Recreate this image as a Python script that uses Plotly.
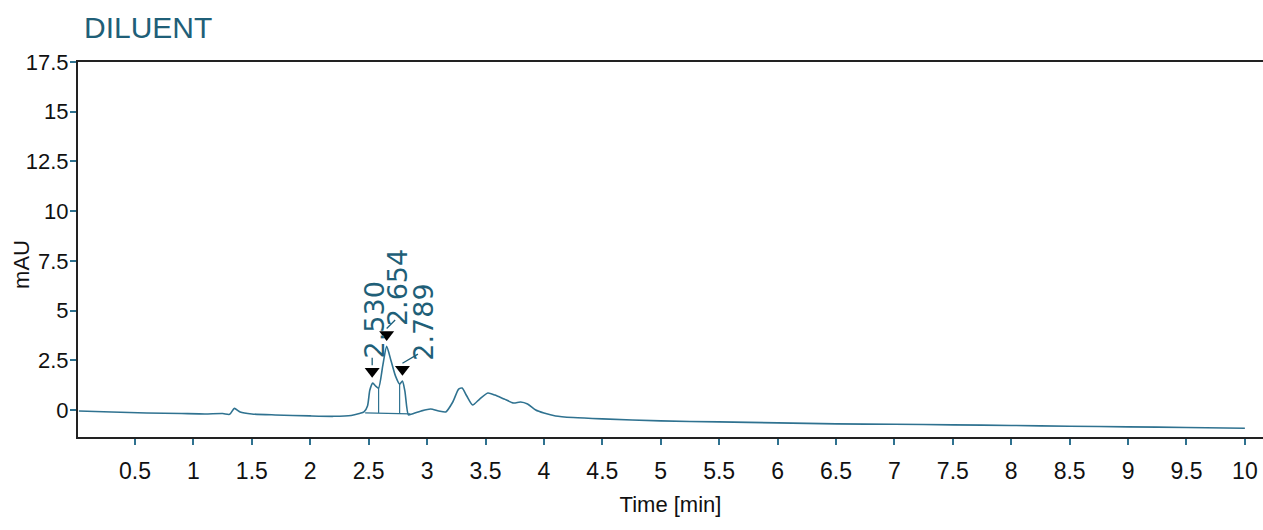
import plotly.graph_objects as go

# ---- data ----
time_min = [0.02, 0.3, 0.6, 0.9, 1.1, 1.25, 1.31, 1.35, 1.4, 1.5, 1.7, 2.0, 2.2, 2.35,
            2.42, 2.46, 2.49, 2.51, 2.535, 2.56, 2.585, 2.62, 2.654, 2.69, 2.73, 2.765,
            2.789, 2.81, 2.84, 2.87, 2.95, 3.03, 3.1, 3.16, 3.22, 3.27, 3.30, 3.34,
            3.39, 3.45, 3.52, 3.58, 3.66, 3.74, 3.8, 3.86, 3.93, 4.0, 4.1, 4.25, 4.5,
            5.0, 5.5, 6.0, 6.5, 7.0, 7.5, 8.0, 8.5, 9.0, 9.5, 10.0]
signal_mau = [-0.05, -0.1, -0.15, -0.18, -0.2, -0.18, -0.22, 0.08, -0.1, -0.2, -0.25,
              -0.3, -0.32, -0.28, -0.18, -0.1, 0.2, 1.0, 1.35, 1.2, 1.1, 2.2, 3.2, 2.5,
              1.7, 1.3, 1.45, 0.95, -0.25, -0.2, -0.05, 0.05, -0.05, -0.1, 0.4, 1.05,
              1.1, 0.7, 0.25, 0.55, 0.85, 0.75, 0.55, 0.35, 0.4, 0.3, 0.0, -0.15, -0.3,
              -0.38, -0.45, -0.55, -0.6, -0.65, -0.7, -0.72, -0.75, -0.78, -0.82, -0.85,
              -0.88, -0.92]

peak_rt = [2.530, 2.654, 2.789]
peak_height = [1.35, 3.2, 1.45]
peak_labels = ["2.530", "2.654", "2.789"]

drop_t = [2.585, 2.765]
drop_top = [1.1, 1.3]
integ_t = [2.47, 2.855]
integ_y = [-0.15, -0.2]

x_ticks = [0.5, 1, 1.5, 2, 2.5, 3, 3.5, 4, 4.5, 5, 5.5, 6, 6.5, 7, 7.5, 8, 8.5, 9, 9.5, 10]
y_ticks = [0, 2.5, 5, 7.5, 10, 12.5, 15, 17.5]

LINE = "#2f7290"
TEXT_TEAL = "#1f5f78"
FONT = "Liberation Sans, Arial, sans-serif"

fig = go.Figure()

fig.add_trace(go.Scatter(x=time_min, y=signal_mau, mode="lines",
                         line=dict(color=LINE, width=1.6, shape="spline", smoothing=0.6),
                         hoverinfo="skip", showlegend=False))

# integration baseline
fig.add_trace(go.Scatter(x=integ_t, y=integ_y, mode="lines",
                         line=dict(color=LINE, width=1.2), showlegend=False))
# drop lines
for t, top in zip(drop_t, drop_top):
    fig.add_trace(go.Scatter(x=[t, t], y=[top, integ_y[0]], mode="lines",
                             line=dict(color=LINE, width=1.2), showlegend=False))

# peak markers (downward triangles just above apex)
fig.add_trace(go.Scatter(x=peak_rt, y=[h + 0.6 for h in peak_height], mode="markers",
                         marker=dict(symbol="triangle-down", size=13, color="black"),
                         showlegend=False))

# leader lines (empty-text arrows) and rotated retention-time labels
leader = {"2.530": (0, -9), "2.654": (10, -10), "2.789": (17, -10)}
label_shift = {"2.530": (2, 42), "2.654": (11, 38), "2.789": (21, 38)}
for t, h, lab in zip(peak_rt, peak_height, peak_labels):
    ax, ay = leader[lab]
    fig.add_annotation(x=t, y=h + 0.9, text="", showarrow=True, arrowhead=0,
                       arrowwidth=1.3, arrowcolor=TEXT_TEAL, ax=ax, ay=ay)
    xs, ys = label_shift[lab]
    fig.add_annotation(x=t, y=h + 1.05, text=lab, textangle=-90, showarrow=False,
                       xshift=xs, yshift=ys,
                       font=dict(family="DejaVu Sans, Liberation Sans", size=27, color=TEXT_TEAL))

# y-axis title
fig.add_annotation(text="mAU", xref="paper", yref="paper", x=0, y=0.459,
                   xanchor="center", yanchor="middle",
                   xshift=-56, textangle=-90, showarrow=False,
                   font=dict(family=FONT, size=22, color="#111111"))

fig.update_layout(
    width=1263, height=530,
    margin=dict(l=78, r=0, t=62, b=93),
    paper_bgcolor="white", plot_bgcolor="white",
    title=dict(text="DILUENT", x=84 / 1263, xanchor="left", y=0.968, yanchor="top",
               font=dict(family=FONT, size=30, color=TEXT_TEAL)),
    font=dict(family=FONT, color="#111111"),
)

fig.update_xaxes(range=[0.012, 10.155], tickvals=x_ticks,
                 ticktext=[f"{v:g}" for v in x_ticks],
                 ticks="outside", ticklen=6, tickwidth=1.5, tickcolor=LINE,
                 showline=True, linecolor="#222222", linewidth=2, mirror=True,
                 showgrid=False, zeroline=False, automargin=False,
                 tickfont=dict(family=FONT, size=23, color="#111111"),
                 ticklabelstandoff=6,
                 title=dict(text="Time [min]", font=dict(family=FONT, size=22, color="#111111"),
                            standoff=14))

fig.update_yaxes(range=[-1.36, 17.5], tickvals=y_ticks,
                 ticktext=[f"{v:g}" for v in y_ticks],
                 ticks="outside", ticklen=6, tickwidth=1.5, tickcolor=LINE,
                 showline=True, linecolor="#222222", linewidth=2,
                 showgrid=False, zeroline=False, automargin=False,
                 tickfont=dict(family=FONT, size=22, color="#111111"),
                 ticklabelstandoff=-3)

fig.write_html("out.html")
